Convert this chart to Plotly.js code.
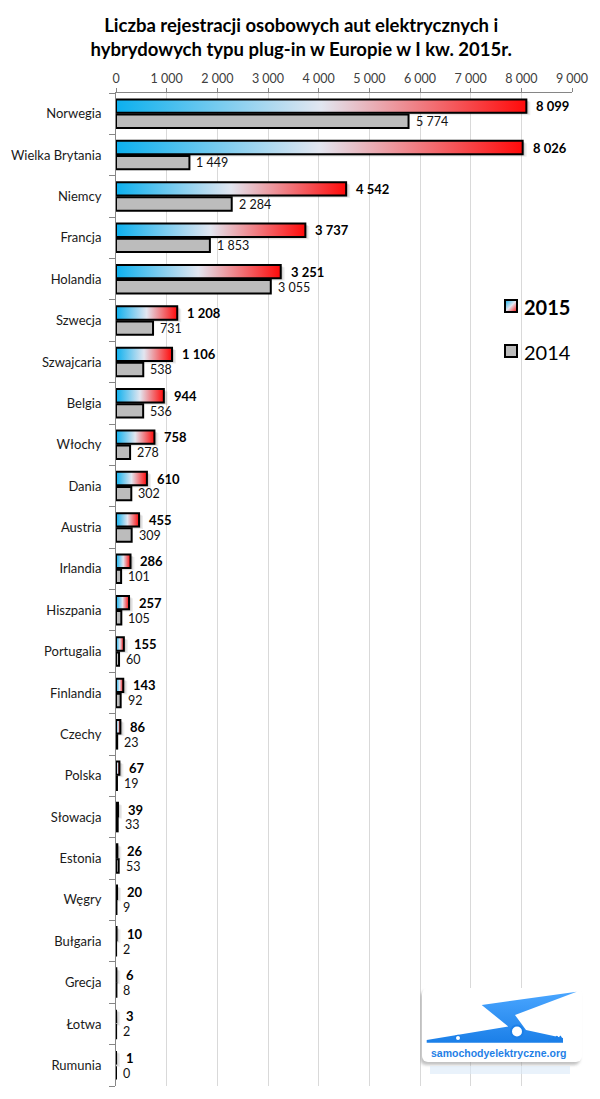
<!DOCTYPE html>
<html><head><meta charset="utf-8">
<script src="https://cdn.plot.ly/plotly-3.0.1.min.js"></script>
<style>html,body{margin:0;padding:0;background:#fff}#chart{width:600px;height:1099px}</style>
</head><body><div id="chart"></div>
<script>
const categories = ['Norwegia','Wielka Brytania','Niemcy','Francja','Holandia','Szwecja','Szwajcaria','Belgia','Włochy','Dania','Austria','Irlandia','Hiszpania','Portugalia','Finlandia','Czechy','Polska','Słowacja','Estonia','Węgry','Bułgaria','Grecja','Łotwa','Rumunia'];
const values2015 = [8099,8026,4542,3737,3251,1208,1106,944,758,610,455,286,257,155,143,86,67,39,26,20,10,6,3,1];
const values2014 = [5774,1449,2284,1853,3055,731,538,536,278,302,309,101,105,60,92,23,19,33,53,9,2,8,2,0];
const seriesNames = ['2015','2014'];
const xTickValues = [0,1000,2000,3000,4000,5000,6000,7000,8000,9000];
const chartTitle = 'Liczba rejestracji osobowych aut elektrycznych i<br>hybrydowych typu plug-in w Europie w I kw. 2015r.';
const logoText = 'samochodyelektryczne.org';

const W = 600, H = 1099;
const M = {l:116, r:28, t:93, b:13};
const plotW = W - M.l - M.r;
const plotH = H - M.t - M.b;
const xMax = 9000;
const n = categories.length;
const ux = xMax / plotW;      // data units per px (x)
const uy = n / plotH;         // data units per px (y)
const FONT = 'Lato, "Open Sans", sans-serif';
const grad = [[0,'#0cb0ee'],[0.5,'#e2e6f0'],[1,'#ff0a0a']];

function fmt(v){ return String(v).replace(/\B(?=(\d{3})+(?!\d))/g,' '); }
function px2x(px){ return (px - M.l)/plotW; }
function px2y(py){ return (H - M.b - py)/plotH; }

const traces = [];
// shadows for 2015 bars
values2015.forEach((v,i)=>{
  const y0 = i-0.345, y1 = i-0.02;
  [[4,0.07],[2.5,0.10],[1.2,0.12]].forEach(([o,a])=>{
    const dx = o*ux, dy = o*uy*0.6;
    traces.push({type:'scatter', mode:'none', fill:'toself', fillcolor:'rgba(0,0,0,'+a+')',
      x:[0, v+dx, v+dx, 0, 0], y:[y0+dy, y0+dy, y1+dy, y1+dy, y0+dy],
      hoverinfo:'skip', showlegend:false});
  });
});
// 2015 gradient bars
values2015.forEach((v,i)=>{
  const y0 = i-0.345, y1 = i-0.02;
  traces.push({type:'scatter', mode:'lines', fill:'toself', name:seriesNames[0],
    x:[0, v, v, 0, 0], y:[y0, y0, y1, y1, y0],
    line:{color:'#000', width:2},
    fillgradient:{type:'horizontal', colorscale:grad},
    hoverinfo:'skip', showlegend:false});
});
// 2014 bars
traces.push({type:'bar', orientation:'h', name:seriesNames[1],
  x: values2014, y: categories.map((_,i)=>i+0.1825), width:0.325,
  marker:{color:'#bcbcbc', line:{color:'#000', width:2}},
  hoverinfo:'skip', showlegend:false});

const annotations = [];
values2015.forEach((v,i)=>{
  annotations.push({x:v, y:i-0.18, xref:'x', yref:'y', text:'<b>'+fmt(v)+'</b>', showarrow:false,
    xanchor:'left', yanchor:'middle', xshift:8, font:{family:FONT, size:13, color:'#000'}});
});
values2014.forEach((v,i)=>{
  annotations.push({x:v, y:i+0.19, xref:'x', yref:'y', text:fmt(v), showarrow:false,
    xanchor:'left', yanchor:'middle', xshift:5, font:{family:FONT, size:12.5, color:'#111'}});
});
// legend texts
annotations.push({xref:'paper', yref:'paper', x:px2x(522), y:px2y(307), text:'<b>'+seriesNames[0]+'</b>', showarrow:false,
  xanchor:'left', yanchor:'middle', font:{family:FONT, size:20, color:'#000'}});
annotations.push({xref:'paper', yref:'paper', x:px2x(522), y:px2y(352), text:seriesNames[1], showarrow:false,
  xanchor:'left', yanchor:'middle', font:{family:FONT, size:20, color:'#000'}});
// logo text
annotations.push({xref:'paper', yref:'paper', x:px2x(498), y:px2y(1053), text:'<b>'+logoText+'</b>', showarrow:false,
  xanchor:'center', yanchor:'middle', font:{family:'"Liberation Sans", Arial, sans-serif', size:10.5, color:'#1f7fe6'}});

function svgUri(s){ return 'data:image/svg+xml;charset=utf-8,' + encodeURIComponent(s); }
const legendSq2015 = svgUri("<svg xmlns='http://www.w3.org/2000/svg' width='14' height='14' viewBox='0 0 14 14'><defs><linearGradient id='g' x1='0' y1='0' x2='1' y2='1'><stop offset='0' stop-color='#0cb0ee'/><stop offset='0.5' stop-color='#e2e6f0'/><stop offset='1' stop-color='#ff0a0a'/></linearGradient></defs><rect x='1' y='1' width='12' height='12' fill='url(#g)' stroke='#000' stroke-width='2'/></svg>");
const legendSq2014 = svgUri("<svg xmlns='http://www.w3.org/2000/svg' width='14' height='14' viewBox='0 0 14 14'><rect x='1' y='1' width='12' height='12' fill='#bcbcbc' stroke='#000' stroke-width='2'/></svg>");
const logoSvg = svgUri("<svg xmlns='http://www.w3.org/2000/svg' width='180' height='119' viewBox='0 0 180 119'>"+
 "<defs><linearGradient id='b' x1='0' y1='0' x2='0' y2='1'><stop offset='0' stop-color='#4aa6ff'/><stop offset='1' stop-color='#1b7fe8'/></linearGradient>"+
 "<filter id='s' x='-10%' y='-10%' width='120%' height='130%'><feGaussianBlur stdDeviation='1.5'/></filter></defs>"+
 "<rect x='0' y='11' width='160' height='74' rx='6' fill='#999' opacity='0.6' filter='url(#s)'/>"+
 "<rect x='2' y='8' width='160' height='74' rx='6' fill='#fff'/>"+
 "<polygon points='61.7,25 156.7,11.7 95,35 106,50 143,58 143,62.7 6.7,62.7 6.7,60 88.3,46.5' fill='url(#b)'/>"+
 "<path d='M128,62 q2,-6 4,-2 q1,-6 3,-1 q1,-6 4,-1 q1,-5 3,0 l0,4 z' fill='#1b7fe8'/>"+
 "<circle cx='97' cy='51.5' r='6' fill='#fff' stroke='#1b7fe8' stroke-width='2'/>"+
 "<circle cx='38' cy='58' r='2.6' fill='#fff' stroke='#1b7fe8' stroke-width='1.2'/>"+
 "<rect x='10' y='86' width='140' height='8' fill='#dbe9f8' opacity='0.6'/>"+
 "</svg>");

const images = [
  {source:legendSq2015, xref:'paper', yref:'paper', x:px2x(504), y:px2y(299), sizex:14/plotW, sizey:14/plotH, xanchor:'left', yanchor:'top', sizing:'stretch', layer:'above'},
  {source:legendSq2014, xref:'paper', yref:'paper', x:px2x(504), y:px2y(344), sizex:14/plotW, sizey:14/plotH, xanchor:'left', yanchor:'top', sizing:'stretch', layer:'above'},
  {source:logoSvg, xref:'paper', yref:'paper', x:px2x(420), y:px2y(980), sizex:180/plotW, sizey:119/plotH, xanchor:'left', yanchor:'top', sizing:'stretch', layer:'above'}
];

const boundaries = [];
for (let i=0;i<=n;i++) boundaries.push(i-0.5);

const layout = {
  width:W, height:H, margin:M, paper_bgcolor:'#fff', plot_bgcolor:'#fff',
  barmode:'overlay', showlegend:false,
  title:{text:chartTitle, font:{family:FONT, size:18.5, color:'#000', weight:'bold'}, xref:'container', x:0.502, xanchor:'center', yref:'container', y:1-32/H, yanchor:'top'},
  xaxis:{side:'top', range:[0,xMax], tickmode:'array', tickvals:xTickValues, ticktext:xTickValues.map(fmt),
    showgrid:true, gridcolor:'#d9d9d9', gridwidth:1, zeroline:false, showline:true, linecolor:'#868686', linewidth:1,
    ticks:'outside', ticklen:4, tickcolor:'#868686', tickfont:{family:FONT, size:12.5, color:'#404040'}, fixedrange:true},
  yaxis:{range:[n-0.5,-0.5], tickmode:'array', tickvals:categories.map((_,i)=>i), ticktext:categories,
    ticks:'outside', ticklen:6, tickcolor:'rgba(0,0,0,0)', showline:true, linecolor:'#868686', linewidth:1,
    showgrid:false, zeroline:false, ticklabelstandoff:5,
    minor:{tickmode:'array', tickvals:boundaries, ticks:'outside', ticklen:6, tickcolor:'#868686', showgrid:false},
    tickfont:{family:FONT, size:13, color:'#1a1a1a'}, fixedrange:true},
  annotations:annotations, images:images
};
Plotly.newPlot('chart', traces, layout, {displayModeBar:false, staticPlot:true});
</script></body></html>
